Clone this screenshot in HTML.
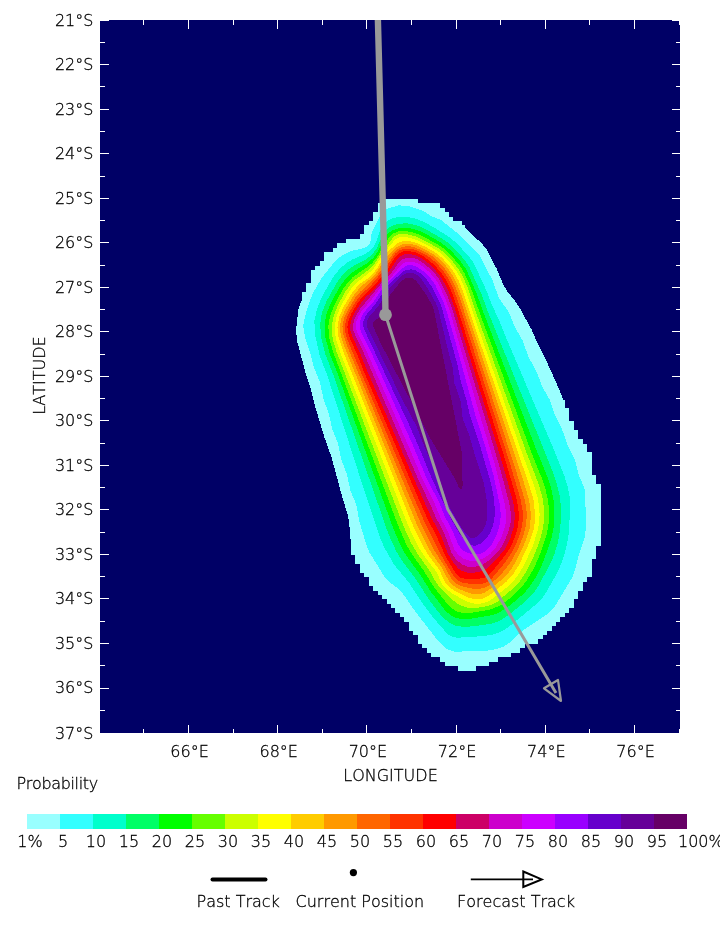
<!DOCTYPE html>
<html><head><meta charset="utf-8"><title>Probability</title>
<style>
html,body{margin:0;padding:0;background:#fff;overflow:hidden}
svg{display:block}
text{font-family:"DejaVu Sans","Liberation Sans",sans-serif;font-size:16px;font-weight:200;fill:#000;stroke:#000;stroke-width:0.3px;font-kerning:none}
</style></head><body>
<svg width="720" height="943" viewBox="0 0 720 943">
<rect x="100" y="20" width="580" height="713" fill="#000066"/>
<defs>
<clipPath id="cs"><path d="M100,300H440V545H100ZM465,225H680V400H465Z"/></clipPath>
<clipPath id="cb"><path clip-rule="evenodd" d="M100,20H680V733H100ZM100,300H440V545H100ZM465,225H680V400H465Z"/></clipPath>
</defs>
<g shape-rendering="crispEdges">
<g clip-path="url(#cb)"><path fill="#99FFFF" d="M382,199H418V203H382ZM378,203H440V208H378ZM378,208H445V212H378ZM373,212H449V217H373ZM373,217H453V221H373ZM369,221H462V225H369ZM364,225H467V230H364ZM364,230H471V234H364ZM360,234H476V239H360ZM346,239H480V243H346ZM337,243H485V248H337ZM333,248H489V252H333ZM324,252H489V257H324ZM324,257H494V261H324ZM320,261H494V266H320ZM315,266H498V270H315ZM311,270H498V274H311ZM311,274H498V279H311ZM311,279H503V283H311ZM306,283H503V288H306ZM306,288H507V292H306ZM302,292H511V297H302ZM302,297H511V301H302ZM302,301H516V306H302ZM297,306H520V310H297ZM297,310H520V314H297ZM297,314H525V319H297ZM297,319H529V323H297ZM297,323H529V328H297ZM297,328H534V332H297ZM297,332H534V337H297ZM297,337H534V341H297ZM297,341H538V346H297ZM297,346H538V350H297ZM302,350H543V355H302ZM302,355H543V359H302ZM302,359H547V363H302ZM302,363H547V368H302ZM306,368H552V372H306ZM306,372H552V377H306ZM306,377H556V381H306ZM311,381H556V386H311ZM311,386H560V390H311ZM311,390H560V395H311ZM311,395H560V399H311ZM315,399H565V404H315ZM315,404H565V408H315ZM315,408H569V412H315ZM320,412H569V417H320ZM320,417H569V421H320ZM320,421H574V426H320ZM320,426H574V430H320ZM324,430H578V435H324ZM324,435H578V439H324ZM324,439H583V444H324ZM329,444H587V448H329ZM329,448H587V452H329ZM329,452H592V457H329ZM333,457H592V461H333ZM333,461H592V466H333ZM333,466H592V470H333ZM337,470H592V475H337ZM337,475H596V479H337ZM337,479H596V484H337ZM337,484H601V488H337ZM342,488H601V493H342ZM342,493H601V497H342ZM342,497H601V501H342ZM346,501H601V506H346ZM346,506H601V510H346ZM346,510H601V515H346ZM346,515H601V519H346ZM351,519H601V524H351ZM351,524H601V528H351ZM351,528H601V533H351ZM351,533H601V537H351ZM351,537H601V542H351ZM351,542H601V546H351ZM351,546H596V550H351ZM351,550H596V555H351ZM355,555H596V559H355ZM355,559H592V564H355ZM360,564H592V568H360ZM360,568H592V573H360ZM364,573H592V577H364ZM369,577H587V582H369ZM369,582H583V586H369ZM373,586H583V591H373ZM378,591H578V595H378ZM382,595H578V599H382ZM387,599H574V604H387ZM391,604H574V608H391ZM395,608H569V613H395ZM400,613H565V617H400ZM404,617H560V622H404ZM409,622H556V626H409ZM409,626H552V631H409ZM413,631H547V635H413ZM418,635H543V639H418ZM418,639H538V644H418ZM422,644H525V648H422ZM427,648H520V653H427ZM431,653H511V657H431ZM440,657H498V662H440ZM445,662H489V666H445ZM458,666H476V671H458Z"/></g>
<g clip-path="url(#cs)"><path fill="#99FFFF" d="M468.5,670.6 463.5,671.1 459.7,670.6 454.3,667.1 446.0,664.1 441.1,660.0 431.2,654.0 424.3,648.3 421.1,644.5 411.8,630.3 396.7,610.3 390.5,603.8 377.9,592.4 372.6,586.4 361.5,571.0 356.4,562.4 353.2,555.1 351.2,547.3 349.0,521.4 347.7,514.6 342.6,498.3 331.4,456.8 324.0,436.1 315.7,408.3 311.3,390.8 305.8,373.7 297.0,340.8 296.1,329.9 298.4,309.1 311.8,272.9 318.0,266.5 322.6,257.8 328.1,252.2 336.0,248.1 342.1,243.0 346.3,240.5 350.1,239.2 357.9,238.0 361.2,236.1 371.3,220.2 379.1,205.2 383.1,200.8 387.5,198.9 413.3,198.3 415.7,199.0 419.2,201.9 430.8,202.5 436.4,204.4 443.1,208.7 464.5,226.8 482.4,244.3 486.2,248.9 496.9,269.2 503.3,284.9 507.0,290.9 516.3,302.7 520.5,309.4 531.6,329.6 538.0,344.3 546.6,361.3 559.3,389.5 575.6,430.4 586.0,447.4 589.2,453.7 590.9,459.4 592.0,471.2 597.5,483.0 599.4,489.7 600.3,499.6 600.8,531.6 599.4,544.5 595.0,553.2 592.3,567.9 589.4,576.4 581.4,587.7 574.2,602.0 566.6,613.7 558.8,622.9 545.4,636.4 540.7,640.0 529.5,644.0 522.4,650.5 508.9,656.8 496.4,660.1 483.8,666.0 468.5,670.6Z"/></g>

<path fill="#33FFFF" d="M461.5,651.5 454.5,651.5 448.9,650.1 444.8,647.5 438.4,641.3 415.1,611.3 402.6,593.3 397.7,588.3 388.2,581.0 384.9,577.4 369.1,551.9 366.9,546.4 359.6,522.5 356.3,504.9 350.3,490.2 347.0,474.6 341.3,459.7 338.2,444.1 332.3,429.3 328.8,413.8 323.4,398.8 320.2,383.2 314.0,367.5 310.0,352.0 305.2,337.8 303.6,330.0 303.4,325.1 304.2,320.2 306.6,310.5 310.8,298.2 313.1,292.8 321.5,278.1 334.7,261.8 342.1,255.2 350.1,251.3 364.6,247.8 368.5,245.4 370.3,242.4 371.8,232.4 381.2,214.1 384.6,210.6 387.9,208.6 398.2,205.4 407.1,205.7 420.3,209.9 423.8,211.4 431.1,216.0 441.0,220.1 460.4,235.6 469.3,245.0 477.3,252.4 480.4,256.3 486.7,269.8 492.6,280.1 498.1,296.1 500.5,300.4 509.1,312.5 515.0,327.3 522.9,341.1 528.5,357.1 535.8,370.1 542.4,386.8 549.8,399.8 555.2,415.8 562.0,429.1 567.3,444.2 574.7,459.4 578.8,474.8 584.2,487.7 585.3,492.5 585.8,525.4 585.4,533.4 584.3,539.2 579.3,553.3 575.0,569.8 572.4,577.3 553.8,608.0 547.3,614.1 524.0,629.5 509.2,642.9 503.4,646.7 496.9,649.0 485.4,650.9 461.5,651.5Z"/>
<path fill="#00FFCC" d="M457.6,637.7 452.3,636.9 447.7,634.2 432.8,617.2 422.1,602.8 409.0,582.7 393.8,564.4 383.6,546.1 379.1,535.0 360.3,478.1 327.0,374.6 319.8,356.1 314.8,333.7 314.4,320.9 317.2,308.4 320.2,301.0 326.0,289.4 334.1,275.7 340.5,268.1 346.5,263.0 352.4,259.5 365.1,254.0 370.7,250.3 375.2,244.3 380.0,230.6 383.2,224.9 385.7,222.3 389.4,219.7 393.5,218.0 398.0,216.9 406.5,216.9 416.1,218.7 424.4,222.1 435.7,228.4 449.1,237.1 456.1,242.7 467.7,255.0 473.6,262.9 486.1,289.9 492.3,305.7 499.9,322.0 506.5,338.7 552.0,445.2 564.3,475.8 567.5,486.3 569.5,496.0 570.2,506.9 568.9,531.8 567.7,540.7 565.2,551.4 562.0,561.9 558.1,571.1 547.4,590.3 542.4,597.7 535.5,604.8 510.9,625.1 505.3,629.2 500.2,632.1 493.7,634.4 483.9,636.1 457.6,637.7Z"/>
<path fill="#00FF66" d="M472.5,626.4 462.6,626.8 455.9,625.7 448.9,622.4 442.9,617.4 437.7,611.4 430.5,601.8 415.3,578.3 401.5,560.0 396.4,551.4 390.8,539.7 386.8,529.4 332.5,372.6 325.2,354.0 321.4,338.5 320.1,324.7 321.8,312.9 326.6,301.0 337.3,281.8 342.8,274.7 348.5,269.3 354.3,265.5 366.5,259.1 372.4,254.3 376.9,248.1 382.6,234.8 386.4,229.6 391.8,225.9 399.2,223.6 407.9,223.4 416.6,225.2 425.7,229.2 440.4,237.7 447.8,242.7 454.5,248.6 463.8,259.0 469.0,266.3 481.2,293.5 487.8,311.3 552.4,470.7 556.6,483.0 559.8,496.6 561.0,507.5 561.0,519.5 559.7,532.4 557.5,544.2 554.5,553.7 550.3,563.9 537.0,588.4 532.1,594.7 525.8,601.1 510.3,613.7 502.2,619.4 496.9,622.0 491.2,623.7 472.5,626.4Z"/>
<path fill="#00FF00" d="M467.5,619.2 460.7,619.0 455.1,617.6 450.1,614.9 445.0,610.3 430.6,591.3 420.0,574.4 406.4,555.9 400.9,546.4 392.8,527.1 336.9,371.8 329.6,353.2 325.5,337.9 324.5,325.0 326.2,314.3 331.1,302.4 340.3,285.8 345.1,279.5 350.7,273.8 355.4,270.3 367.3,263.2 373.1,258.1 378.2,251.0 384.5,238.0 387.6,233.7 392.7,230.1 399.9,227.8 408.5,227.8 417.1,229.9 425.2,233.6 439.9,242.0 446.4,246.5 452.9,252.7 461.4,262.4 466.4,269.8 476.7,293.6 483.8,313.4 536.3,449.6 547.2,476.4 550.7,486.8 553.2,497.5 554.3,506.4 554.4,516.4 553.6,527.3 551.8,537.1 548.2,548.5 542.1,564.4 536.4,576.1 531.2,584.5 525.6,591.5 519.2,597.8 508.3,606.6 500.1,612.1 495.7,614.1 490.1,615.6 467.5,619.2Z"/>
<path fill="#66FF00" d="M469.5,613.2 462.7,613.0 457.2,611.5 452.3,608.6 447.4,603.9 433.2,586.1 423.9,570.9 411.7,553.8 406.2,544.3 397.2,523.2 333.4,352.7 329.2,338.3 328.3,326.5 330.0,315.8 334.8,303.8 343.0,289.0 348.3,281.8 353.2,276.8 367.8,266.8 372.2,263.0 377.0,257.0 389.4,236.9 393.5,233.4 398.9,231.2 406.3,231.0 415.8,233.2 423.9,236.8 439.6,245.6 446.0,250.3 451.6,255.9 459.3,265.1 464.2,272.6 471.0,288.1 480.6,315.4 532.1,454.2 542.6,480.2 545.6,489.7 547.6,498.4 548.9,508.3 549.1,517.3 548.3,526.2 546.5,535.0 542.9,546.4 537.5,560.4 532.3,571.2 526.6,580.6 521.8,586.9 516.3,592.7 507.2,600.5 500.0,605.7 490.0,609.6 469.5,613.2Z"/>
<path fill="#CCFF00" d="M474.5,608.0 466.7,607.5 459.6,605.0 452.4,599.9 443.8,591.8 436.8,583.6 429.7,570.9 418.1,554.7 411.5,543.6 405.9,531.8 398.9,514.1 336.5,351.5 332.7,339.2 331.7,328.3 333.2,317.6 337.3,306.4 344.9,292.3 350.0,285.0 354.8,280.0 368.3,270.1 372.6,266.2 392.2,238.7 395.2,235.7 399.0,234.0 406.2,234.0 414.7,236.1 422.8,239.7 438.5,248.3 444.8,253.1 450.4,258.8 457.2,267.4 462.6,275.8 467.7,287.7 477.3,316.1 526.2,451.7 538.4,483.5 542.3,496.9 543.7,505.8 544.2,514.7 543.7,522.7 542.3,531.5 539.6,541.1 535.4,552.4 530.0,564.2 524.3,574.8 519.8,581.3 515.2,586.5 497.9,601.3 493.6,603.8 488.1,605.8 481.4,607.3 474.5,608.0Z"/>
<path fill="#FFFF00" d="M481.3,603.5 474.7,603.8 467.3,601.9 453.7,594.4 445.9,588.7 441.5,583.4 437.1,572.8 424.7,556.7 417.7,545.7 411.9,534.1 405.7,519.3 340.0,351.7 335.8,338.4 334.7,327.6 336.2,317.9 340.1,307.7 347.2,294.6 351.8,288.0 356.3,282.9 373.0,269.5 385.3,251.2 394.8,239.8 399.4,237.1 406.3,237.1 415.7,239.6 425.6,244.2 436.9,250.5 443.2,255.3 448.7,261.0 455.4,269.7 460.1,277.3 465.6,290.2 474.0,315.8 522.3,453.6 534.1,485.5 537.5,497.0 539.0,505.8 539.6,513.8 539.3,520.7 538.2,528.6 533.0,545.8 523.3,566.6 516.4,577.5 508.3,586.2 492.1,599.2 486.9,601.9 481.3,603.5Z"/>
<path fill="#FFCC00" d="M480.3,599.3 474.7,599.3 468.3,597.5 455.0,591.0 448.0,586.1 444.9,582.0 439.5,570.2 428.4,555.1 422.2,544.8 415.5,531.4 409.2,516.7 342.8,350.3 338.4,337.1 337.4,327.3 339.0,317.6 343.2,307.6 351.3,293.8 359.4,284.0 369.9,276.9 372.8,274.1 377.2,268.2 384.1,256.6 388.9,250.8 396.6,243.8 402.2,241.2 408.7,240.9 416.2,242.7 426.1,247.2 435.6,252.7 441.8,257.6 447.2,263.4 453.3,271.4 458.3,279.9 463.6,292.9 470.9,315.7 528.9,484.1 533.4,499.4 535.2,514.2 534.9,521.2 533.7,529.1 529.5,542.3 519.4,564.1 513.2,574.3 506.5,581.6 488.9,595.6 484.8,597.9 480.3,599.3Z"/>
<path fill="#FF9900" d="M480.2,594.1 474.6,594.3 468.0,592.7 458.0,588.7 452.4,585.1 448.8,580.9 441.6,567.4 431.8,553.6 427.7,546.7 416.4,523.3 397.3,477.1 345.1,348.3 340.7,335.1 339.9,326.3 341.6,317.7 346.2,307.9 353.9,295.0 361.4,286.0 371.1,278.4 375.5,273.9 387.0,256.8 391.3,251.7 397.1,246.8 403.0,244.2 409.5,243.8 416.1,245.3 425.0,249.4 434.4,254.8 440.4,259.9 445.8,265.8 451.7,273.8 456.1,281.6 461.7,295.5 523.6,481.5 529.2,500.6 531.0,514.4 529.9,527.3 525.8,540.6 517.4,558.7 510.8,569.8 503.8,578.1 487.9,590.7 483.8,593.0 480.2,594.1Z"/>
<path fill="#FF6600" d="M483.1,588.2 477.5,589.1 469.8,588.3 461.3,586.2 455.5,583.1 451.1,578.2 443.9,565.3 433.1,548.6 420.1,521.7 401.0,476.5 347.2,346.1 343.1,333.8 342.4,326.1 343.9,318.6 348.1,309.6 355.3,297.7 360.3,291.6 370.1,282.8 377.1,275.2 383.8,266.7 393.8,252.3 398.5,248.6 403.6,246.6 409.2,246.2 415.7,247.7 424.6,251.7 432.9,256.7 438.8,261.9 444.7,268.6 449.8,276.0 454.2,283.8 460.0,298.7 516.4,471.9 525.0,500.6 526.8,512.4 526.3,524.3 523.4,535.9 518.0,548.8 510.8,561.9 502.4,572.9 491.1,583.8 487.4,586.4 483.1,588.2Z"/>
<path fill="#FF3300" d="M484.9,583.1 479.5,584.1 469.7,583.8 463.1,582.8 458.1,580.7 453.1,575.4 439.0,551.5 423.7,520.1 406.2,479.7 361.9,374.5 348.1,341.3 345.6,333.8 344.9,326.1 346.1,319.5 349.8,311.4 356.6,300.4 360.8,295.0 370.3,285.9 383.3,271.0 395.2,253.7 399.2,250.6 403.4,249.0 409.0,248.6 415.6,249.9 423.5,253.5 430.8,258.1 436.6,263.3 442.5,270.0 447.6,277.4 452.3,286.2 457.7,300.2 477.3,361.2 509.0,460.4 520.7,499.7 522.7,511.5 522.7,521.4 520.9,531.1 516.8,542.4 511.4,553.1 505.3,562.2 491.6,578.6 488.1,581.5 484.9,583.1Z"/>
<path fill="#FF0000" d="M485.5,577.3 480.5,578.5 468.2,578.8 463.7,578.5 460.5,577.5 457.8,575.6 455.4,572.9 445.9,556.8 436.1,535.4 427.4,518.6 411.2,482.0 364.0,371.8 357.1,354.1 350.3,339.7 348.1,333.2 347.4,326.6 348.6,320.0 351.8,312.8 357.5,303.5 362.2,297.2 372.5,287.5 385.2,272.6 396.1,255.9 399.3,253.1 403.4,251.5 408.9,251.1 415.5,252.3 421.6,255.1 427.9,259.5 434.6,265.3 440.6,272.0 445.6,279.4 450.2,288.2 456.8,306.0 505.1,459.5 516.1,497.0 518.4,508.7 518.9,518.6 517.5,528.4 514.6,537.9 510.5,547.0 505.2,555.4 490.9,573.0 485.5,577.3Z"/>
<path fill="#CC0066" d="M467.7,572.6 462.4,571.2 457.9,568.1 453.0,562.1 447.9,553.6 440.3,534.3 431.4,517.6 413.3,477.5 366.9,370.1 359.8,352.4 352.5,337.2 350.5,330.7 350.2,325.0 351.8,318.5 354.8,312.4 360.8,303.2 365.6,297.3 374.2,289.1 388.1,272.9 398.1,257.9 400.8,255.8 404.8,254.3 410.4,254.1 416.8,255.6 421.8,258.3 428.8,263.7 435.2,269.9 439.6,275.3 444.3,282.9 449.1,292.7 454.6,307.7 496.7,444.5 505.6,474.2 513.6,504.1 514.9,516.0 513.8,526.8 510.0,539.2 504.5,549.7 494.2,561.7 486.2,568.8 478.3,572.0 472.5,572.8 467.7,572.6Z"/>
<path fill="#CC00CC" d="M475.4,566.8 467.8,566.7 461.7,564.3 455.9,559.3 451.5,552.9 444.0,532.5 436.0,517.8 429.3,502.3 418.0,478.9 363.0,351.3 355.5,336.1 353.5,330.7 353.0,326.1 353.9,320.5 356.2,315.2 360.4,308.6 381.6,283.2 391.5,272.9 399.1,262.2 402.6,259.4 406.7,257.9 412.2,257.8 417.5,259.4 423.3,263.0 430.1,268.7 434.9,273.7 439.1,279.2 447.5,296.1 452.3,309.3 492.6,443.3 500.8,471.1 509.2,503.0 510.9,513.8 510.6,522.7 507.9,533.2 503.2,544.1 498.3,551.3 489.2,560.2 482.7,564.5 475.4,566.8Z"/>
<path fill="#CC00FF" d="M476.4,560.6 469.7,560.6 463.4,558.6 458.1,554.7 454.3,549.3 448.0,531.7 440.5,517.8 434.1,502.2 422.8,480.0 409.2,447.7 366.4,350.7 358.3,334.7 356.3,329.4 355.9,325.8 356.5,321.2 358.6,315.9 361.8,311.0 371.1,300.3 382.2,285.5 392.5,275.8 399.8,266.3 403.2,263.4 407.3,261.7 412.7,261.6 418.0,263.4 423.7,267.1 430.3,273.0 437.7,282.2 445.7,299.4 450.0,311.6 479.9,415.4 495.6,467.1 504.4,502.0 506.0,511.8 506.1,520.7 504.3,529.4 501.1,537.7 496.0,546.9 490.7,553.4 483.7,558.3 476.4,560.6Z"/>
<path fill="#9900FF" d="M480.2,553.7 473.6,554.3 467.2,552.9 462.5,550.0 458.5,545.0 452.7,531.4 444.9,516.5 438.4,500.8 427.2,479.7 412.6,444.5 369.1,347.8 361.8,333.8 360.2,329.3 359.6,324.7 360.3,320.1 362.0,315.7 364.6,311.6 374.0,301.1 381.2,290.3 385.7,284.6 393.6,277.4 401.9,268.5 407.3,265.5 411.6,265.2 416.8,266.8 421.7,269.9 427.6,275.1 432.2,280.3 435.4,285.2 443.5,302.4 446.6,310.8 455.0,340.6 475.8,416.8 483.8,441.5 493.7,476.1 500.3,507.2 500.7,516.1 499.9,524.0 496.8,534.4 491.0,545.6 486.0,551.0 480.2,553.7Z"/>
<path fill="#6600CC" d="M476.2,545.5 473.7,545.6 470.4,544.9 465.3,541.3 459.4,533.5 451.9,520.5 432.0,479.2 421.5,453.2 409.1,424.7 363.6,328.3 363.2,322.0 365.5,315.9 376.5,302.4 385.0,289.3 389.4,284.2 400.6,273.6 404.3,270.9 407.6,269.6 411.9,269.4 416.2,270.7 421.1,273.8 425.4,277.8 432.2,287.4 441.4,306.3 457.5,365.0 461.1,382.6 466.4,399.7 470.1,416.2 479.4,443.6 491.2,484.0 493.5,495.7 494.6,506.6 494.6,516.6 493.3,524.4 490.7,531.8 486.6,538.4 481.9,543.0 476.2,545.5Z"/>
<path fill="#660099" d="M474.2,538.2 470.2,537.7 465.4,533.2 458.1,522.5 450.2,508.6 447.4,502.2 441.4,484.2 425.7,449.6 416.1,425.4 402.0,399.0 366.8,326.2 366.7,322.5 368.2,318.0 379.1,305.2 386.8,291.4 399.6,277.6 403.5,274.6 407.0,273.1 410.7,272.8 414.4,273.7 417.8,275.6 421.4,279.0 427.5,288.0 435.3,302.0 438.1,308.4 449.2,355.0 452.7,367.5 454.4,383.3 460.7,401.0 462.7,418.8 469.0,434.4 476.2,459.4 483.7,482.2 486.5,498.9 487.5,511.9 487.2,518.8 485.7,524.5 482.5,530.7 478.0,535.9 474.2,538.2Z"/>
<path fill="#660066" d="M461.2,488.9 460.0,488.9 459.0,487.9 455.7,480.0 431.2,439.8 380.6,343.1 373.0,325.8 373.1,323.2 373.9,321.6 378.4,318.0 380.1,315.8 390.0,295.1 400.5,281.8 405.1,278.3 411.8,278.1 415.9,280.3 426.8,295.7 432.1,305.3 433.9,310.0 462.0,453.5 462.6,485.4 462.2,487.9 461.2,488.9Z"/>
</g>
<path stroke="#fff" stroke-width="1" fill="none" d="M100,20.5h9M680,20.5h-8M100,42.5h5M680,42.5h-4M100,64.5h9M680,64.5h-8M100,86.5h5M680,86.5h-4M100,109.5h9M680,109.5h-8M100,131.5h5M680,131.5h-4M100,153.5h9M680,153.5h-8M100,176.5h5M680,176.5h-4M100,198.5h9M680,198.5h-8M100,220.5h5M680,220.5h-4M100,242.5h9M680,242.5h-8M100,265.5h5M680,265.5h-4M100,287.5h9M680,287.5h-8M100,309.5h5M680,309.5h-4M100,331.5h9M680,331.5h-8M100,354.5h5M680,354.5h-4M100,376.5h9M680,376.5h-8M100,398.5h5M680,398.5h-4M100,420.5h9M680,420.5h-8M100,443.5h5M680,443.5h-4M100,465.5h9M680,465.5h-8M100,487.5h5M680,487.5h-4M100,509.5h9M680,509.5h-8M100,532.5h5M680,532.5h-4M100,554.5h9M680,554.5h-8M100,576.5h5M680,576.5h-4M100,598.5h9M680,598.5h-8M100,621.5h5M680,621.5h-4M100,643.5h9M680,643.5h-8M100,665.5h5M680,665.5h-4M100,688.5h9M680,688.5h-8M100,710.5h5M680,710.5h-4M143.5,20v5M143.5,733v-4M188.5,20v9M188.5,733v-8M233.5,20v5M233.5,733v-4M277.5,20v9M277.5,733v-8M322.5,20v5M322.5,733v-4M366.5,20v9M366.5,733v-8M411.5,20v5M411.5,733v-4M456.5,20v9M456.5,733v-8M500.5,20v5M500.5,733v-4M545.5,20v9M545.5,733v-8M589.5,20v5M589.5,733v-4M634.5,20v9M634.5,733v-8M679.5,20v5M679.5,733v-4"/>
<path d="M377.9,20 L385.1,290 L385.5,314.7" stroke="#999" stroke-width="6.4" fill="none"/>
<path d="M385.5,314.7 L447.9,509.6 L556,693" stroke="#999" stroke-width="3" fill="none" stroke-linejoin="round"/>
<path d="M561,701 L544,688.3 L558,680 Z" stroke="#999" stroke-width="2.2" fill="none" stroke-linejoin="round"/>
<circle cx="385.5" cy="314.7" r="6.4" fill="#999"/>
<g>
<text x="93.4" y="26.0" text-anchor="end">21°S</text>
<text x="93.4" y="70.0" text-anchor="end">22°S</text>
<text x="93.4" y="114.5" text-anchor="end">23°S</text>
<text x="93.4" y="159.1" text-anchor="end">24°S</text>
<text x="93.4" y="203.6" text-anchor="end">25°S</text>
<text x="93.4" y="248.1" text-anchor="end">26°S</text>
<text x="93.4" y="292.6" text-anchor="end">27°S</text>
<text x="93.4" y="337.1" text-anchor="end">28°S</text>
<text x="93.4" y="381.7" text-anchor="end">29°S</text>
<text x="93.4" y="426.2" text-anchor="end">30°S</text>
<text x="93.4" y="470.7" text-anchor="end">31°S</text>
<text x="93.4" y="515.2" text-anchor="end">32°S</text>
<text x="93.4" y="559.7" text-anchor="end">33°S</text>
<text x="93.4" y="604.3" text-anchor="end">34°S</text>
<text x="93.4" y="648.8" text-anchor="end">35°S</text>
<text x="93.4" y="693.3" text-anchor="end">36°S</text>
<text x="93.4" y="739.1" text-anchor="end">37°S</text>
<text x="189.5" y="757" text-anchor="middle">66°E</text>
<text x="278.7" y="757" text-anchor="middle">68°E</text>
<text x="367.9" y="757" text-anchor="middle">70°E</text>
<text x="457.1" y="757" text-anchor="middle">72°E</text>
<text x="546.3" y="757" text-anchor="middle">74°E</text>
<text x="635.5" y="757" text-anchor="middle">76°E</text>
</g>
<text x="39" y="375.5" text-anchor="middle" transform="rotate(-90 39 375.5)" dy="5.8">LATITUDE</text>
<text x="390.5" y="781" text-anchor="middle">LONGITUDE</text>
<text x="16.5" y="788.7" textLength="81.6" lengthAdjust="spacing">Probability</text>
<rect x="27" y="814" width="33" height="15" fill="#99FFFF"/>
<rect x="60" y="814" width="33" height="15" fill="#33FFFF"/>
<rect x="93" y="814" width="33" height="15" fill="#00FFCC"/>
<rect x="126" y="814" width="33" height="15" fill="#00FF66"/>
<rect x="159" y="814" width="33" height="15" fill="#00FF00"/>
<rect x="192" y="814" width="33" height="15" fill="#66FF00"/>
<rect x="225" y="814" width="33" height="15" fill="#CCFF00"/>
<rect x="258" y="814" width="33" height="15" fill="#FFFF00"/>
<rect x="291" y="814" width="33" height="15" fill="#FFCC00"/>
<rect x="324" y="814" width="33" height="15" fill="#FF9900"/>
<rect x="357" y="814" width="33" height="15" fill="#FF6600"/>
<rect x="390" y="814" width="33" height="15" fill="#FF3300"/>
<rect x="423" y="814" width="33" height="15" fill="#FF0000"/>
<rect x="456" y="814" width="33" height="15" fill="#CC0066"/>
<rect x="489" y="814" width="33" height="15" fill="#CC00CC"/>
<rect x="522" y="814" width="33" height="15" fill="#CC00FF"/>
<rect x="555" y="814" width="33" height="15" fill="#9900FF"/>
<rect x="588" y="814" width="33" height="15" fill="#6600CC"/>
<rect x="621" y="814" width="33" height="15" fill="#660099"/>
<rect x="654" y="814" width="33" height="15" fill="#660066"/>
<text x="30" y="847" text-anchor="middle">1%</text>
<text x="63" y="847" text-anchor="middle">5</text>
<text x="96" y="847" text-anchor="middle">10</text>
<text x="129" y="847" text-anchor="middle">15</text>
<text x="162" y="847" text-anchor="middle">20</text>
<text x="195" y="847" text-anchor="middle">25</text>
<text x="228" y="847" text-anchor="middle">30</text>
<text x="261" y="847" text-anchor="middle">35</text>
<text x="294" y="847" text-anchor="middle">40</text>
<text x="327" y="847" text-anchor="middle">45</text>
<text x="360" y="847" text-anchor="middle">50</text>
<text x="393" y="847" text-anchor="middle">55</text>
<text x="426" y="847" text-anchor="middle">60</text>
<text x="459" y="847" text-anchor="middle">65</text>
<text x="492" y="847" text-anchor="middle">70</text>
<text x="525" y="847" text-anchor="middle">75</text>
<text x="558" y="847" text-anchor="middle">80</text>
<text x="591" y="847" text-anchor="middle">85</text>
<text x="624" y="847" text-anchor="middle">90</text>
<text x="657" y="847" text-anchor="middle">95</text>
<text x="678" y="847">100%</text>
<path d="M212.5,879.4H265.5" stroke="#000" stroke-width="4" stroke-linecap="round"/>
<circle cx="353.4" cy="872.6" r="3.6" fill="#000"/>
<path d="M470.8,879.4H533" stroke="#000" stroke-width="1.6"/>
<path d="M523.3,871.5 L541.7,879.4 L523.3,887 Z" stroke="#000" stroke-width="2" fill="none" stroke-linejoin="miter"/>
<text x="196.5" y="907">Past Track</text>
<text x="295.5" y="907">Current Position</text>
<text x="457" y="907">Forecast Track</text>
</svg>
</body></html>
